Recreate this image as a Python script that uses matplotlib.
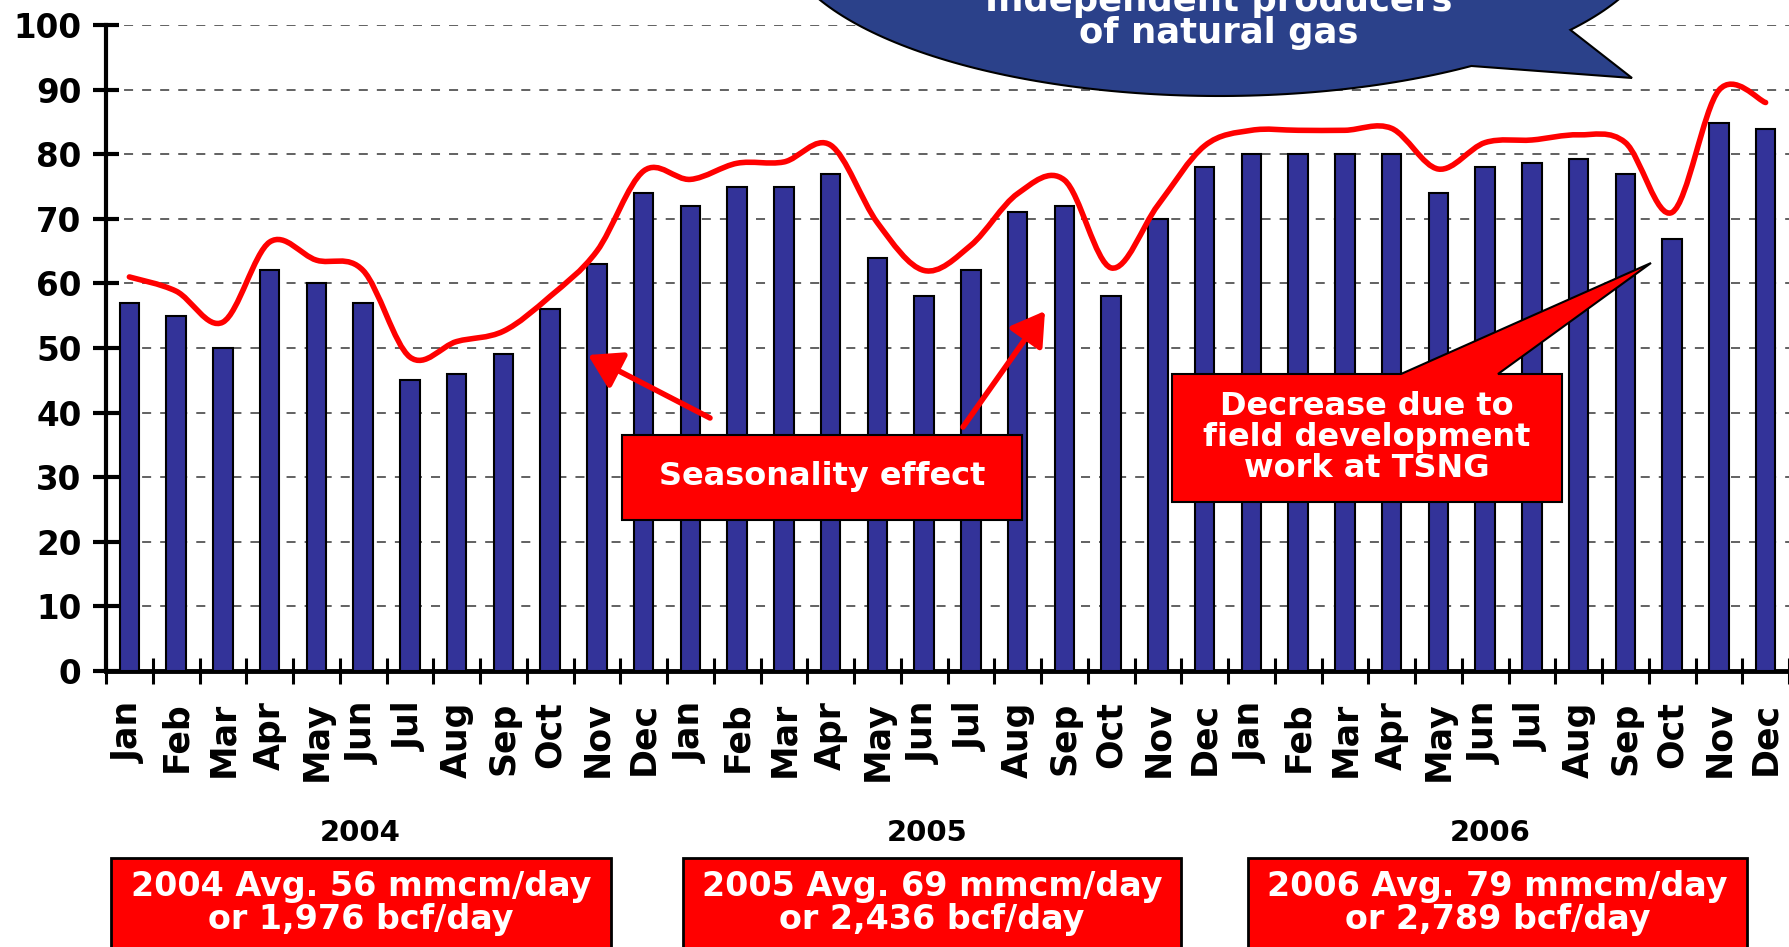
import numpy as np
import matplotlib
matplotlib.use("Agg")
import matplotlib.pyplot as plt
from matplotlib.path import Path
from matplotlib.patches import PathPatch, Polygon, Rectangle, FancyArrowPatch

# ---------------- data ----------------
month_names = ["Jan", "Feb", "Mar", "Apr", "May", "Jun",
               "Jul", "Aug", "Sep", "Oct", "Nov", "Dec"]
years = ["2004", "2005", "2006"]
months = month_names * len(years)

production = [57, 55, 50, 62, 60, 57, 45, 46, 49, 56, 63, 74,
              72, 75, 75, 77, 64, 58, 62, 71, 72, 58, 70, 78,
              80, 80, 80, 80, 74, 78, 78.6, 79.2, 77, 66.8, 84.8, 83.9]

trend = [61, 58.8, 54, 66.4, 63.6, 62, 48.6, 51, 52.6, 58, 65, 77.4,
         76.1, 78.6, 78.8, 81.4, 69.4, 62, 65.9, 73.9, 76, 62.4, 72.1, 81.3,
         83.7, 83.7, 83.7, 84, 77.7, 81.8, 82.2, 83, 81.8, 71, 89.9, 88]

yticks = list(range(0, 101, 10))

avg_labels = ["2004 Avg. 56 mmcm/day\nor 1,976 bcf/day",
              "2005 Avg. 69 mmcm/day\nor 2,436 bcf/day",
              "2006 Avg. 79 mmcm/day\nor 2,789 bcf/day"]

bubble_lines = ["Independent producers", "of natural gas"]
season_text = "Seasonality effect"
decrease_text = "Decrease due to\nfield development\nwork at TSNG"

# ---------------- figure ----------------
plt.rcParams['font.family'] = ['DejaVu Sans']
plt.rcParams['font.weight'] = 'bold'

W, H = 1789, 947
fig = plt.figure(figsize=(W / 100, H / 100), dpi=100)


def P(x, y):
    return (x / W, 1 - y / H)


ax = fig.add_axes([106 / W, 1 - 671 / H, 1 - 106 / W, (671 - 25) / H])
x = np.arange(len(production))
ax.bar(x, production, width=0.42, color='#333399', edgecolor='black',
       linewidth=1.5, zorder=3)

# smooth red line through trend values (Catmull-Rom -> Bezier)
pts = np.column_stack([x, trend]).astype(float)
verts = [pts[0]]
codes = [Path.MOVETO]
n = len(pts)
for i in range(n - 1):
    p0 = pts[i - 1] if i > 0 else pts[i]
    p1 = pts[i]
    p2 = pts[i + 1]
    p3 = pts[i + 2] if i + 2 < n else pts[i + 1]
    c1 = p1 + (p2 - p0) / 6.0
    c2 = p2 - (p3 - p1) / 6.0
    verts += [c1, c2, p2]
    codes += [Path.CURVE4] * 3
ax.add_patch(PathPatch(Path(verts, codes), fill=False, edgecolor='#ff0000',
                       linewidth=4, zorder=4, capstyle='round',
                       joinstyle='round'))

ax.set_xlim(-0.5, 35.35)
ax.set_ylim(0, 100)
ax.set_yticks(yticks)
ax.set_yticklabels([str(v) for v in yticks], fontsize=23.5, fontweight='bold')
ax.set_xticks(x)
ax.set_xticklabels(months, rotation=90, fontsize=25, fontweight='bold',
                   va='top', ha='center')
ax.set_xticks(np.arange(-0.5, 36, 1), minor=True)
ax.tick_params(axis='x', which='major', length=0, pad=22)
ax.tick_params(axis='x', which='minor', direction='inout', length=19,
               width=2.2, color='black')
ax.tick_params(axis='y', direction='inout', length=19, width=3,
               pad=8, color='black')

ax.yaxis.grid(True, linestyle=(0, (5, 5)), color='#555555', linewidth=1.3)
ax.set_axisbelow(True)
for s in ['top', 'right']:
    ax.spines[s].set_visible(False)
ax.spines['left'].set_linewidth(3)
ax.spines['bottom'].set_linewidth(3.5)

# ---------------- speech bubble ----------------
cx, cy, a, b = 1219, -70, 440, 166
t = np.radians(np.linspace(55, 397, 300))
ex = cx + a * np.cos(t)
ey = cy + b * np.sin(t)
bubble = [P(px, py) for px, py in zip(ex, ey)] + [P(1632, 78)]
fig.add_artist(Polygon(bubble, closed=True, facecolor='#2b418a',
                       edgecolor='black', linewidth=1.5,
                       transform=fig.transFigure, zorder=5))
fig.text(*P(1219, 11), bubble_lines[0], ha='center', va='baseline',
         color='white', fontsize=25.5, fontweight='bold', zorder=6)
fig.text(*P(1219, 43), bubble_lines[1], ha='center', va='baseline',
         color='white', fontsize=25.5, fontweight='bold', zorder=6)

# ---------------- seasonality box & arrows ----------------
fig.add_artist(Rectangle(P(622, 520), 400 / W, 85 / H, facecolor='#ff0000',
                         edgecolor='black', linewidth=1.5,
                         transform=fig.transFigure, zorder=5))
fig.text(*P(822, 476), season_text, ha='center', va='center', color='white',
         fontsize=23, fontweight='bold', zorder=6)
for (x0, y0), (x1, y1) in [((710, 418), (588, 355)), ((963, 427), (1045, 311))]:
    fig.add_artist(FancyArrowPatch(P(x0, y0), P(x1, y1),
                                   arrowstyle='-|>,head_length=0.9,head_width=0.55',
                                   mutation_scale=22, color='#ff0000',
                                   linewidth=4, shrinkA=0, shrinkB=0,
                                   transform=fig.transFigure, zorder=5))

# ---------------- decrease callout ----------------
callout = [P(1172, 374), P(1401, 374), P(1651, 263), P(1498, 374),
           P(1562, 374), P(1562, 502), P(1172, 502)]
fig.add_artist(Polygon(callout, closed=True, facecolor='#ff0000',
                       edgecolor='black', linewidth=1.5,
                       transform=fig.transFigure, zorder=5))
fig.text(*P(1367, 437), decrease_text, ha='center', va='center',
         color='white', fontsize=23, fontweight='bold', linespacing=1.0,
         zorder=6)

# ---------------- year labels & averages ----------------
year_x = [360, 927, 1490]
box_x = [(111, 611), (683, 1181), (1248, 1747)]
for yr, yx, (bx0, bx1), lab in zip(years, year_x, box_x, avg_labels):
    fig.text(*P(yx, 833), yr, ha='center', va='center', fontsize=21,
             fontweight='bold')
    fig.add_artist(Rectangle(P(bx0, 980), (bx1 - bx0) / W, 122 / H,
                             facecolor='#ff0000', edgecolor='black',
                             linewidth=2, transform=fig.transFigure, zorder=5))
    fig.text(*P((bx0 + bx1) / 2, 903), lab, ha='center', va='center',
             color='white', fontsize=24, fontweight='bold', linespacing=1.0,
             zorder=6)

fig.savefig("out.png", dpi=100)
